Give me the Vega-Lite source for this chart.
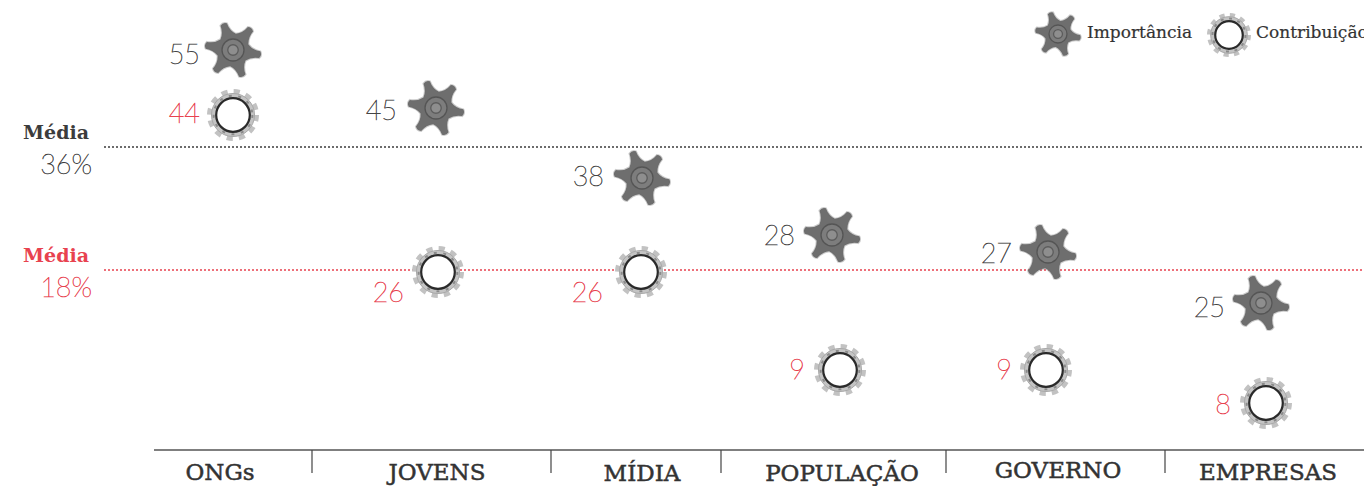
{
"$schema":"https://vega.github.io/schema/vega-lite/v6.json",
"width":1364,"height":486,"padding":0,"autosize":"none",
"background":"white",
"view":{"stroke":null},
"datasets":{
"dados":[
{"categoria":"ONGs","ordem":1,"serie":"Importância","valor":55},
{"categoria":"JOVENS","ordem":2,"serie":"Importância","valor":45},
{"categoria":"MÍDIA","ordem":3,"serie":"Importância","valor":38},
{"categoria":"POPULAÇÃO","ordem":4,"serie":"Importância","valor":28},
{"categoria":"GOVERNO","ordem":5,"serie":"Importância","valor":27},
{"categoria":"EMPRESAS","ordem":6,"serie":"Importância","valor":25},
{"categoria":"ONGs","ordem":1,"serie":"Contribuição","valor":44},
{"categoria":"JOVENS","ordem":2,"serie":"Contribuição","valor":26},
{"categoria":"MÍDIA","ordem":3,"serie":"Contribuição","valor":26},
{"categoria":"POPULAÇÃO","ordem":4,"serie":"Contribuição","valor":9},
{"categoria":"GOVERNO","ordem":5,"serie":"Contribuição","valor":9},
{"categoria":"EMPRESAS","ordem":6,"serie":"Contribuição","valor":8}
],
"categorias":[
{"categoria":"ONGs","ordem":1},{"categoria":"JOVENS","ordem":2},{"categoria":"MÍDIA","ordem":3},
{"categoria":"POPULAÇÃO","ordem":4},{"categoria":"GOVERNO","ordem":5},{"categoria":"EMPRESAS","ordem":6}
],
"medias":[{"serie":"Importância","media":0.36},{"serie":"Contribuição","media":0.18}],
"legenda":[{"serie":"Importância","ordem":1},{"serie":"Contribuição","ordem":2}]
},
"resolve":{"scale":{"x":"independent","y":"independent","color":"independent","stroke":"independent"}},
"layer":[
{"data":{"values":[{"eixo":"base"}]},
 "mark":{"type":"rule","stroke":"#555555","strokeWidth":1.4},
 "encoding":{
  "x":{"datum":0,"type":"quantitative","axis":null,"scale":{"domain":[0,1],"range":[154,1364]}},
  "x2":{"datum":1},
  "y":{"datum":0,"type":"quantitative","axis":null,"scale":{"domain":[0,1],"range":[450,473]}}}},
{"data":{"name":"categorias"},"transform":[{"filter":"datum.ordem < 6"}],
 "mark":{"type":"rule","stroke":"#444444","strokeWidth":1.2},
 "encoding":{
  "x":{"field":"ordem","type":"quantitative","axis":null,"scale":{"domain":[1,2,3,4,5],"range":[312,551,721,946,1165]}},
  "y":{"datum":0,"type":"quantitative","axis":null,"scale":{"domain":[0,1],"range":[450,473]}},
  "y2":{"datum":1}}},
{"data":{"name":"categorias"},
 "mark":{"type":"text","font":"DejaVu Serif","fontSize":23,"fill":"#333333","stroke":"#333333","strokeWidth":0.5,"align":"center","baseline":"middle"},
 "encoding":{
  "x":{"field":"ordem","type":"quantitative","axis":null,"scale":{"domain":[1,2,3,4,5,6],"range":[220,437,642,842,1058,1268]}},
  "y":{"field":"ordem","type":"quantitative","axis":null,"scale":{"domain":[1,2,3,4,5,6],"range":[473,473,474,474,471,473]}},
  "text":{"field":"categoria"}}},
{"data":{"name":"medias"},
 "encoding":{
  "y":{"field":"media","type":"quantitative","axis":null,"scale":{"domain":[0.18,0.36],"range":[270,147]}},
  "color":{"field":"serie","type":"nominal","legend":null,"scale":{"domain":["Importância","Contribuição"],"range":["#3c3c3c","#e8424f"]}}},
 "layer":[
  {"mark":{"type":"rule","strokeWidth":1.3,"strokeDash":[2,2]},
   "encoding":{
    "x":{"datum":0,"type":"quantitative","axis":null,"scale":{"domain":[0,1],"range":[104,1364]}},
    "x2":{"datum":1}}},
  {"mark":{"type":"text","font":"DejaVu Serif","fontWeight":"bold","fontSize":19,"align":"right","baseline":"middle","dx":-15,"dy":-14},
   "encoding":{
    "x":{"datum":0,"type":"quantitative","axis":null,"scale":{"domain":[0,1],"range":[104,1364]}},
    "text":{"value":"Média"}}},
  {"mark":{"type":"text","font":"Lato","fontWeight":200,"fontSize":27,"strokeWidth":0.55,"align":"right","baseline":"middle","dx":-12,"dy":19},
   "encoding":{
    "x":{"datum":0,"type":"quantitative","axis":null,"scale":{"domain":[0,1],"range":[104,1364]}},
    "stroke":{"field":"serie","type":"nominal","legend":null,"scale":{"domain":["Importância","Contribuição"],"range":["#3c3c3c","#e8424f"]}},
    "text":{"field":"media","type":"quantitative","format":".0%"}}}
 ]},
{"data":{"name":"dados"},"transform":[{"filter":"datum.serie === 'Importância'"}],
 "encoding":{
  "x":{"field":"ordem","type":"quantitative","axis":null,"scale":{"domain":[1,2,3,4,5,6],"range":[233,436,642,832,1048,1261]}},
  "y":{"field":"valor","type":"quantitative","axis":null,"scale":{"zero":false,"nice":false,"domain":[25,27,28,38,45,55],"range":[303,252,235,178,108,50]}}},
 "layer":[
  {"mark":{"type":"point","shape":"M0.502,-0.29Q0.68,-0.12 0.96,-0.12Q1.05,0 0.96,0.12Q0.68,0.12 0.502,0.29Q0.444,0.529 0.584,0.771Q0.525,0.909 0.376,0.891Q0.236,0.649 0,0.58Q-0.236,0.649 -0.376,0.891Q-0.525,0.909 -0.584,0.771Q-0.444,0.529 -0.502,0.29Q-0.68,0.12 -0.96,0.12Q-1.05,0 -0.96,-0.12Q-0.68,-0.12 -0.502,-0.29Q-0.444,-0.529 -0.584,-0.771Q-0.525,-0.909 -0.376,-0.891Q-0.236,-0.649 0,-0.58Q0.236,-0.649 0.376,-0.891Q0.525,-0.909 0.584,-0.771Q0.444,-0.529 0.502,-0.29Z","size":3200,"angle":10,"filled":true,"fill":"#6e6e6e","stroke":"#6e6e6e","strokeOpacity":0.35,"strokeWidth":2,"opacity":1}},
  {"mark":{"type":"point","shape":"circle","size":484,"filled":true,"fill":"#7d7d7d","stroke":"#555555","strokeWidth":1.3,"opacity":1}},
  {"mark":{"type":"point","shape":"circle","size":110,"filled":true,"fill":"#8e8e8e","stroke":"#5c5c5c","strokeWidth":1.3,"opacity":1}}
 ]},
{"data":{"name":"dados"},"transform":[{"filter":"datum.serie === 'Importância'"}],
 "mark":{"type":"text","font":"Lato","fontWeight":200,"fontSize":27,"fill":"#444444","stroke":"#444444","strokeWidth":0.55,"align":"right","baseline":"middle","dy":1},
 "encoding":{
  "x":{"field":"ordem","type":"quantitative","axis":null,"scale":{"domain":[1,2,3,4,5,6],"range":[200,397,604,795,1012,1225]}},
  "y":{"field":"valor","type":"quantitative","axis":null,"scale":{"zero":false,"nice":false,"domain":[25,27,28,38,45,55],"range":[308,254,236,177,111,55]}},
  "text":{"field":"valor","type":"quantitative"}}},
{"data":{"name":"dados"},"transform":[{"filter":"datum.serie === 'Contribuição'"}],
 "encoding":{
  "x":{"field":"ordem","type":"quantitative","axis":null,"scale":{"domain":[1,2,3,4,5,6],"range":[233,438,641,840,1046,1266]}},
  "y":{"field":"valor","type":"quantitative","axis":null,"scale":{"zero":false,"nice":false,"domain":[8,9,26,44],"range":[403,370,272,115]}}},
 "layer":[
  {"mark":{"type":"point","shape":"circle","size":2209,"filled":false,"stroke":"#c2c2c2","strokeWidth":5,"strokeDash":[6.2,6.1],"opacity":1}},
  {"mark":{"type":"point","shape":"circle","size":1850,"filled":true,"fill":"#c4c4c4","stroke":"#a8a8a8","strokeWidth":1,"opacity":1}},
  {"mark":{"type":"point","shape":"circle","size":1500,"filled":false,"stroke":"#8a8a8a","strokeWidth":2,"strokeDash":[3,6.6],"opacity":1}},
  {"mark":{"type":"point","shape":"circle","size":1130,"filled":true,"fill":"#ffffff","stroke":"#2a2a2a","strokeWidth":2.2,"opacity":1}}
 ]},
{"data":{"name":"dados"},"transform":[{"filter":"datum.serie === 'Contribuição'"}],
 "mark":{"type":"text","font":"Lato","fontWeight":200,"fontSize":27,"fill":"#e8424f","stroke":"#e8424f","strokeWidth":0.55,"align":"right","baseline":"middle","dy":1},
 "encoding":{
  "x":{"field":"ordem","type":"quantitative","axis":null,"scale":{"domain":[1,2,3,4,5,6],"range":[200,404,603,805,1012,1231]}},
  "y":{"field":"valor","type":"quantitative","axis":null,"scale":{"zero":false,"nice":false,"domain":[8,9,26,44],"range":[405,370,293,114]}},
  "text":{"field":"valor","type":"quantitative"}}},
{"data":{"name":"legenda"},"transform":[{"filter":"datum.serie === 'Importância'"}],
 "encoding":{
  "x":{"datum":1,"type":"quantitative","axis":null,"scale":{"domain":[1,2],"range":[1058,1229]}},
  "y":{"datum":1,"type":"quantitative","axis":null,"scale":{"domain":[1,2],"range":[34,35]}}},
 "layer":[
  {"mark":{"type":"point","shape":"M0.502,-0.29Q0.68,-0.12 0.96,-0.12Q1.05,0 0.96,0.12Q0.68,0.12 0.502,0.29Q0.444,0.529 0.584,0.771Q0.525,0.909 0.376,0.891Q0.236,0.649 0,0.58Q-0.236,0.649 -0.376,0.891Q-0.525,0.909 -0.584,0.771Q-0.444,0.529 -0.502,0.29Q-0.68,0.12 -0.96,0.12Q-1.05,0 -0.96,-0.12Q-0.68,-0.12 -0.502,-0.29Q-0.444,-0.529 -0.584,-0.771Q-0.525,-0.909 -0.376,-0.891Q-0.236,-0.649 0,-0.58Q0.236,-0.649 0.376,-0.891Q0.525,-0.909 0.584,-0.771Q0.444,-0.529 0.502,-0.29Z","size":2100,"angle":10,"filled":true,"fill":"#6e6e6e","stroke":"#6e6e6e","strokeOpacity":0.35,"strokeWidth":2,"opacity":1}},
  {"mark":{"type":"point","shape":"circle","size":324,"filled":true,"fill":"#7d7d7d","stroke":"#555555","strokeWidth":1.3,"opacity":1}},
  {"mark":{"type":"point","shape":"circle","size":80,"filled":true,"fill":"#8e8e8e","stroke":"#5c5c5c","strokeWidth":1.3,"opacity":1}}
 ]},
{"data":{"name":"legenda"},"transform":[{"filter":"datum.serie === 'Contribuição'"}],
 "encoding":{
  "x":{"datum":2,"type":"quantitative","axis":null,"scale":{"domain":[1,2],"range":[1058,1229]}},
  "y":{"datum":2,"type":"quantitative","axis":null,"scale":{"domain":[1,2],"range":[34,35]}}},
 "layer":[
  {"mark":{"type":"point","shape":"circle","size":1600,"filled":false,"stroke":"#c2c2c2","strokeWidth":4,"strokeDash":[5.2,5.3],"opacity":1}},
  {"mark":{"type":"point","shape":"circle","size":1340,"filled":true,"fill":"#c4c4c4","stroke":"#a8a8a8","strokeWidth":1,"opacity":1}},
  {"mark":{"type":"point","shape":"circle","size":1090,"filled":false,"stroke":"#8a8a8a","strokeWidth":2,"strokeDash":[3,5.6],"opacity":1}},
  {"mark":{"type":"point","shape":"circle","size":760,"filled":true,"fill":"#ffffff","stroke":"#2a2a2a","strokeWidth":2.2,"opacity":1}}
 ]},
{"data":{"name":"legenda"},
 "mark":{"type":"text","font":"DejaVu Serif","fontSize":17,"fill":"#333333","stroke":"#333333","strokeWidth":0.2,"align":"left","baseline":"middle"},
 "encoding":{
  "x":{"field":"ordem","type":"quantitative","axis":null,"scale":{"domain":[1,2],"range":[1087,1256]}},
  "y":{"field":"ordem","type":"quantitative","axis":null,"scale":{"domain":[1,2],"range":[33,33]}},
  "text":{"field":"serie"}}}
]
}
